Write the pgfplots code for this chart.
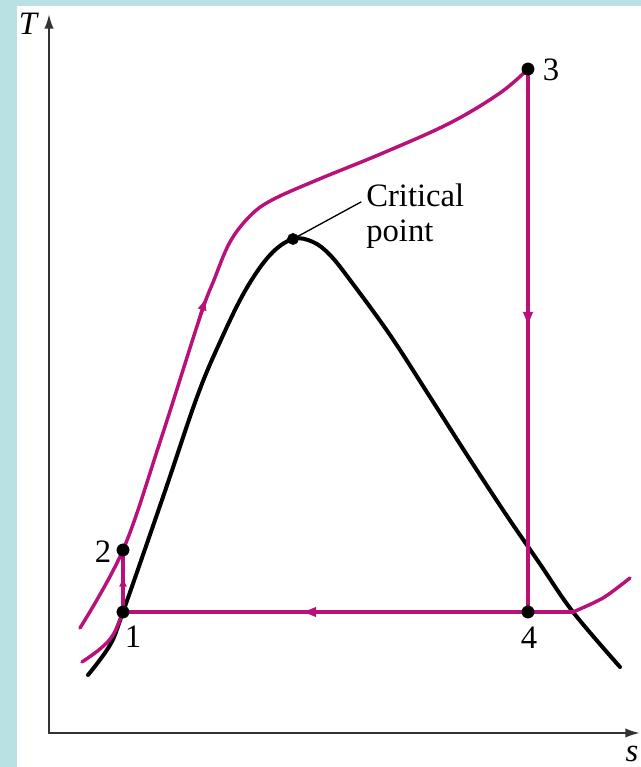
\documentclass[border=0pt]{standalone}
\usepackage{pgfplots}
\pgfplotsset{compat=1.18}
\usepackage{fontspec}
\setmainfont{Liberation Serif}
\usetikzlibrary{arrows.meta}
\definecolor{cyc}{HTML}{B8127A}
\definecolor{bgblue}{HTML}{B9E0E3}
\definecolor{axgray}{HTML}{333333}

\begin{document}
\begin{tikzpicture}
\begin{axis}[
    width=480.75pt, height=575.25pt, scale only axis,
    xmin=0, xmax=641, ymin=0, ymax=767,
    hide axis, clip=true,
    every axis plot/.append style={line join=round, line cap=round},
  ]
  % background
  \addplot[fill=bgblue, draw=none] coordinates {(0,0) (641,0) (641,767) (0,767)} -- cycle;
  \addplot[fill=white, draw=none] coordinates {(17,0) (641,0) (641,761) (17,761)} -- cycle;
  % axes
  \addplot[axgray, line width=1.6pt, -{Latex[length=11pt,width=7pt]}] coordinates {(49,34) (49,753)};
  \addplot[axgray, line width=1.6pt, -{Latex[length=11pt,width=7pt]}] coordinates {(49,34) (640,34)};

  % saturation dome
  \addplot[black, line width=3pt, smooth, tension=0.6] coordinates {
    (88,92) (110,122) (123,155) (163,270) (197,370) (220,425) (245,476)
    (270,512) (293,528) (313,525) (330,512) (350,487) (390,432) (430,370)
    (467,312) (505,254) (540,203) (573,155) (620,100)};

  % high pressure line through 2 to 3
  \addplot[cyc, line width=2.6pt, smooth, tension=0.6] coordinates {
    (80,139) (123,217) (160,325) (200,450) (214,487) (230,525) (250,551)
    (272,567) (317,587) (383,614) (450,644) (500,674) (528,698)};
  % low pressure line
  \addplot[cyc, line width=2.6pt, smooth, tension=0.6] coordinates {
    (82,105) (100,118) (113,132) (123,155)};
  \addplot[cyc, line width=2.6pt] coordinates {(123,155) (573,155)};
  \addplot[cyc, line width=2.6pt, smooth] coordinates {(573,155) (603,169) (630,189)};
  % 3 -> 4 and 1 -> 2
  \addplot[cyc, line width=2.6pt] coordinates {(528,698) (528,155)};
  \addplot[cyc, line width=2.6pt] coordinates {(123,155) (123,217)};

  % direction arrows
  \addplot[cyc, line width=2.6pt, -{Latex[length=12pt,width=8pt]}] coordinates {(528,462) (528,439)};
  \addplot[cyc, line width=2.6pt, -{Latex[length=12pt,width=8pt]}] coordinates {(324,155) (300,155)};
  \addplot[cyc, line width=2.4pt, -{Latex[length=8pt,width=6pt]}] coordinates {(123,168) (123,191)};
  \addplot[cyc, line width=2.4pt, -{Latex[length=10pt,width=7pt]}] coordinates {(199,447) (206,470)};

  % leader line to critical point
  \addplot[black, line width=1pt] coordinates {(293,528) (361,565)};

  % state points
  \addplot[only marks, mark=*, mark size=4.6pt, black] coordinates {
    (123,155) (123,217) (528,698) (528,155)};
  \addplot[only marks, mark=*, mark size=4.2pt, black] coordinates {(293,528)};

  % labels
  \node[font=\fontsize{24.5}{28}\selectfont] at (axis cs:133,130) {1};
  \node[font=\fontsize{24.5}{28}\selectfont] at (axis cs:103,215) {2};
  \node[font=\fontsize{24.5}{28}\selectfont] at (axis cs:551,697) {3};
  \node[font=\fontsize{24.5}{28}\selectfont] at (axis cs:529,129) {4};
  \node[font=\fontsize{24.5}{28}\selectfont, anchor=north west, align=left, inner sep=0pt]
    at (axis cs:366,583) {Critical\\[-2pt]point};
  \node[font=\fontsize{24.5}{28}\selectfont\itshape, inner sep=0pt] at (axis cs:28,743) {T};
  \node[font=\fontsize{24.5}{28}\selectfont\itshape, anchor=base, inner sep=0pt] at (axis cs:632,6) {s};
\end{axis}
\pgfresetboundingbox
\path[use as bounding box] (0,0) rectangle (480.75pt,575.25pt);
\end{tikzpicture}
\end{document}
